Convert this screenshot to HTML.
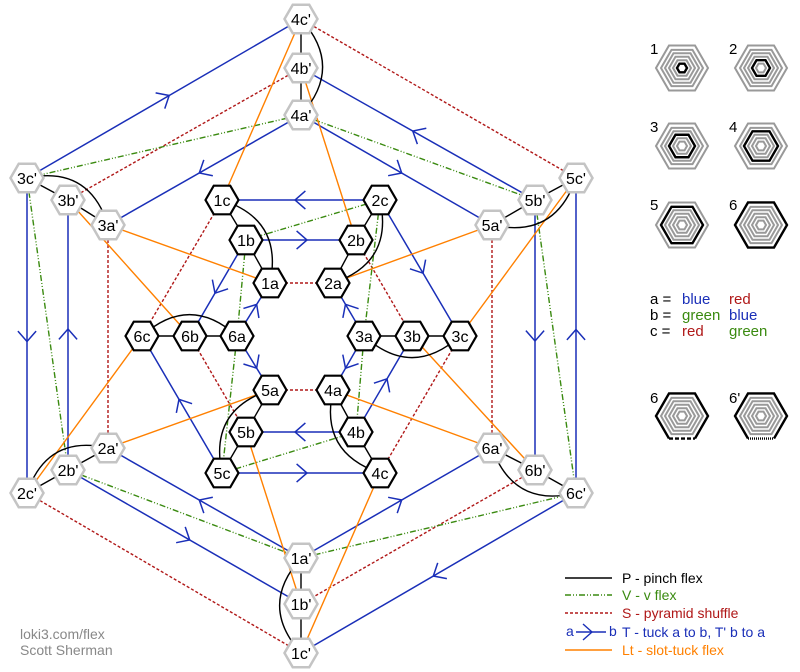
<!DOCTYPE html>
<html><head><meta charset="utf-8"><style>
html,body{margin:0;padding:0;background:#fff}
svg{display:block}
text{font-family:"Liberation Sans",Arial,sans-serif}
</style></head><body>
<svg id="s" width="800" height="672" viewBox="0 0 800 672" xmlns="http://www.w3.org/2000/svg">
<g id="lines"></g>
<g id="hexes"></g>
<g id="labels" font-size="16" text-anchor="middle" fill="#000">
<text x="222" y="206">1c</text><text x="246" y="246">1b</text><text x="270" y="289">1a</text>
<text x="380" y="206">2c</text><text x="356" y="246">2b</text><text x="333" y="289">2a</text>
<text x="142" y="342">6c</text><text x="190" y="342">6b</text><text x="237" y="342">6a</text>
<text x="364" y="342">3a</text><text x="412" y="342">3b</text><text x="460" y="342">3c</text>
<text x="270" y="396">5a</text><text x="246" y="438">5b</text><text x="222" y="479">5c</text>
<text x="333" y="396">4a</text><text x="356" y="438">4b</text><text x="380" y="479">4c</text>
<text x="301" y="25">4c'</text><text x="301" y="74">4b'</text><text x="301" y="121">4a'</text>
<text x="27" y="184">3c'</text><text x="68" y="206">3b'</text><text x="108" y="231">3a'</text>
<text x="576" y="184">5c'</text><text x="535" y="206">5b'</text><text x="492" y="231">5a'</text>
<text x="27" y="499">2c'</text><text x="68" y="476">2b'</text><text x="108" y="454">2a'</text>
<text x="576" y="499">6c'</text><text x="535" y="476">6b'</text><text x="492" y="454">6a'</text>
<text x="301" y="659">1c'</text><text x="301" y="610">1b'</text><text x="301" y="564">1a'</text>
</g>
<g id="icons"></g>
<g font-size="15" fill="#000">
<text x="650" y="54">1</text><text x="729" y="54">2</text>
<text x="650" y="132">3</text><text x="729" y="132">4</text>
<text x="650" y="210">5</text><text x="729" y="210">6</text>
<text x="650" y="403">6</text><text x="729" y="403">6'</text>
</g>
<g font-size="15">
<text x="650" y="304" fill="#000">a =</text><text x="682" y="304" fill="#1a2fb8">blue</text><text x="729" y="304" fill="#b01818">red</text>
<text x="650" y="320" fill="#000">b =</text><text x="682" y="320" fill="#3a8a10">green</text><text x="729" y="320" fill="#1a2fb8">blue</text>
<text x="650" y="336" fill="#000">c =</text><text x="682" y="336" fill="#b01818">red</text><text x="729" y="336" fill="#3a8a10">green</text>
</g>
<g font-size="14">
<line x1="565" y1="578" x2="612" y2="578" stroke="#000" stroke-width="1.4"/>
<text x="622" y="583" fill="#000">P - pinch flex</text>
<line x1="565" y1="595" x2="612" y2="595" stroke="#3a8a10" stroke-width="1.4" stroke-dasharray="6 2 1 2 1 2"/>
<text x="622" y="600" fill="#3a8a10">V - v flex</text>
<line x1="565" y1="613" x2="612" y2="613" stroke="#b01818" stroke-width="1.4" stroke-dasharray="3 2"/>
<text x="622" y="618" fill="#b01818">S - pyramid shuffle</text>
<text x="566" y="636" fill="#1a2fb8">a</text>
<line x1="576" y1="632" x2="606" y2="632" stroke="#1a2fb8" stroke-width="1.4"/>
<polyline points="583,624 592,632 583,640" fill="none" stroke="#1a2fb8" stroke-width="1.4"/>
<text x="609" y="636" fill="#1a2fb8">b</text>
<text x="622" y="637" fill="#1a2fb8">T - tuck a to b, T' b to a</text>
<line x1="565" y1="650" x2="612" y2="650" stroke="#ff8000" stroke-width="1.4"/>
<text x="622" y="655" fill="#ff8000">Lt - slot-tuck flex</text>
<text x="20" y="639" fill="#888">loki3.com/flex</text>
<text x="20" y="655" fill="#888">Scott Sherman</text>
</g>
</svg>
<script>
const NS="http://www.w3.org/2000/svg";
const N={'1c':[222,200],'1b':[246,240],'1a':[270,283],'2c':[380,200],'2b':[356,240],'2a':[333,283],
'6c':[142,336],'6b':[190,336],'6a':[237,336],'3a':[364,336],'3b':[412,336],'3c':[460,336],
'5a':[270,390],'5b':[246,432],'5c':[222,473],'4a':[333,390],'4b':[356,432],'4c':[380,473],
"4c'":[301,19],"4b'":[301,68],"4a'":[301,115],"3c'":[27,178],"3b'":[68,200],"3a'":[108,225],
"5c'":[576,178],"5b'":[535,200],"5a'":[492,225],"2c'":[27,493],"2b'":[68,470],"2a'":[108,448],
"6c'":[576,493],"6b'":[535,470],"6a'":[492,448],"1c'":[301,653],"1b'":[301,604],"1a'":[301,558]};
const C={P:'#000',T:'#1a2fb8',S:'#b01818',V:'#3a8a10',L:'#ff8000'};
const D={P:null,T:null,S:'3 2',V:'6 2 1 2 1 2',L:null};
const E=[
['1c','1b','P'],['1b','1a','P'],['2c','2b','P'],['2b','2a','P'],['6c','6b','P'],['6b','6a','P'],
['3a','3b','P'],['3b','3c','P'],['5a','5b','P'],['5b','5c','P'],['4a','4b','P'],['4b','4c','P'],
["4c'","4b'",'P'],["4b'","4a'",'P'],["3c'","3b'",'P'],["3b'","3a'",'P'],["5c'","5b'",'P'],["5b'","5a'",'P'],
["2c'","2b'",'P'],["2b'","2a'",'P'],["6a'","6b'",'P'],["6b'","6c'",'P'],["1a'","1b'",'P'],["1b'","1c'",'P'],
['2c','1c','T'],['1b','2b','T'],['4b','5b','T'],['5c','4c','T'],['1b','6b','T'],['5c','6c','T'],
['2c','3c','T'],['4b','3b','T'],['6a','1a','T'],['6a','5a','T'],['3a','2a','T'],['3a','4a','T'],
["3c'","4c'",'T'],["4a'","3a'",'T'],["4a'","5a'",'T'],["5b'","4b'",'T'],["3c'","2c'",'T'],["2b'","3b'",'T'],
["5b'","6b'",'T'],["6c'","5c'",'T'],["1a'","2a'",'T'],["2b'","1b'",'T'],["1a'","6a'",'T'],["6c'","1c'",'T'],
['1a','2a','S'],['5a','4a','S'],['1c','6c','S'],['6b','5b','S'],['2b','3b','S'],['3c','4c','S'],
["4c'","5c'",'S'],["4b'","3b'",'S'],["3a'","2a'",'S'],["5a'","6a'",'S'],["2c'","1c'",'S'],["6b'","1b'",'S'],
['2c','1b','V'],['5c','4b','V'],['1b','6a','V'],['6a','5c','V'],['2c','3a','V'],['3a','4b','V'],
["4a'","3c'",'V'],["4a'","5b'",'V'],["3c'","2b'",'V'],["5b'","6c'",'V'],["2b'","1a'",'V'],["1a'","6c'",'V'],
["4c'",'1c','L'],["4b'",'2b','L'],["3a'",'1a','L'],["3b'",'6b','L'],["2c'",'6c','L'],["2a'",'5a','L'],
["5a'",'2a','L'],["5c'",'3c','L'],["6a'",'4a','L'],["6b'",'3b','L'],["1b'",'5b','L'],["1c'",'4c','L']];
const A=[['1c','1a',-1],['2c','2a',-1],['6c','6a',-1],['3a','3c',1],['5a','5c',1],['4a','4c',1],
["4c'","4a'",-1],["3c'","3a'",-1],["5c'","5a'",-1],["2c'","2a'",-1],["6a'","6c'",1],["1a'","1c'",1]];
const L=document.getElementById('lines'),H=document.getElementById('hexes'),I=document.getElementById('icons');
function el(p,t,a){const e=document.createElementNS(NS,t);for(const k in a)e.setAttribute(k,a[k]);p.appendChild(e);return e;}
E.forEach(([a,b,t])=>{const [x1,y1]=N[a],[x2,y2]=N[b];
 const at={x1,y1,x2,y2,stroke:C[t],'stroke-width':t==='T'?1.5:1.4};if(D[t])at['stroke-dasharray']=D[t];el(L,'line',at);
 if(t==='T'){const mx=(x1+x2)/2,my=(y1+y2)/2,dx=x2-x1,dy=y2-y1,l=Math.hypot(dx,dy),ux=dx/l,uy=dy/l,px=-uy,py=ux,s=13;
  const tx=mx+ux*6,ty=my+uy*6;
  el(L,'polyline',{points:`${tx-ux*s*0.8+px*s*0.7},${ty-uy*s*0.8+py*s*0.7} ${tx},${ty} ${tx-ux*s*0.8-px*s*0.7},${ty-uy*s*0.8-py*s*0.7}`,fill:'none',stroke:C.T,'stroke-width':1.5});}
});
A.forEach(([a,b,s])=>{const [x1,y1]=N[a],[x2,y2]=N[b],dx=x2-x1,dy=y2-y1,l=Math.hypot(dx,dy);
 const cx=(x1+x2)/2+s*(-dy/l)*l*0.45,cy=(y1+y2)/2+s*(dx/l)*l*0.45;
 el(L,'path',{d:`M${x1},${y1} Q${cx},${cy} ${x2},${y2}`,fill:'none',stroke:'#000','stroke-width':1.4});});
function hp(cx,cy,r){const h=r*0.866;return `${cx-r},${cy} ${cx-r/2},${cy-h} ${cx+r/2},${cy-h} ${cx+r},${cy} ${cx+r/2},${cy+h} ${cx-r/2},${cy+h}`;}
for(const k in N){const [x,y]=N[k],p=k.includes("'");
 el(H,'polygon',{points:hp(x,y,16.5),fill:'#fff',stroke:p?'#c4c4c4':'#000','stroke-width':p?2.5:2.2});}
function icon(cx,cy,blk,mode){const rs=[5,9,13,17,21,26];
 rs.forEach((r,i)=>{const b=(i+1)===blk;
  if(mode&&i===5){const h=r*0.866;
   el(I,'polyline',{points:`${cx+r/2},${cy+h} ${cx+r},${cy} ${cx+r/2},${cy-h} ${cx-r/2},${cy-h} ${cx-r},${cy} ${cx-r/2},${cy+h}`,fill:'none',stroke:'#000','stroke-width':2.4});
   el(I,'line',{x1:cx-r/2,y1:cy+h,x2:cx+r/2,y2:cy+h,stroke:'#000','stroke-width':2.4,'stroke-dasharray':mode==1?'4 2':'1 1'});
  } else el(I,'polygon',{points:hp(cx,cy,r),fill:'none',stroke:b?'#000':'#999','stroke-width':b?2.4:2});});}
icon(682,68,1);icon(761,68,2);icon(682,146,3);icon(761,146,4);icon(682,225,5);icon(761,225,6);
icon(682,416,0,1);icon(761,416,0,2);
</script>
</body></html>
